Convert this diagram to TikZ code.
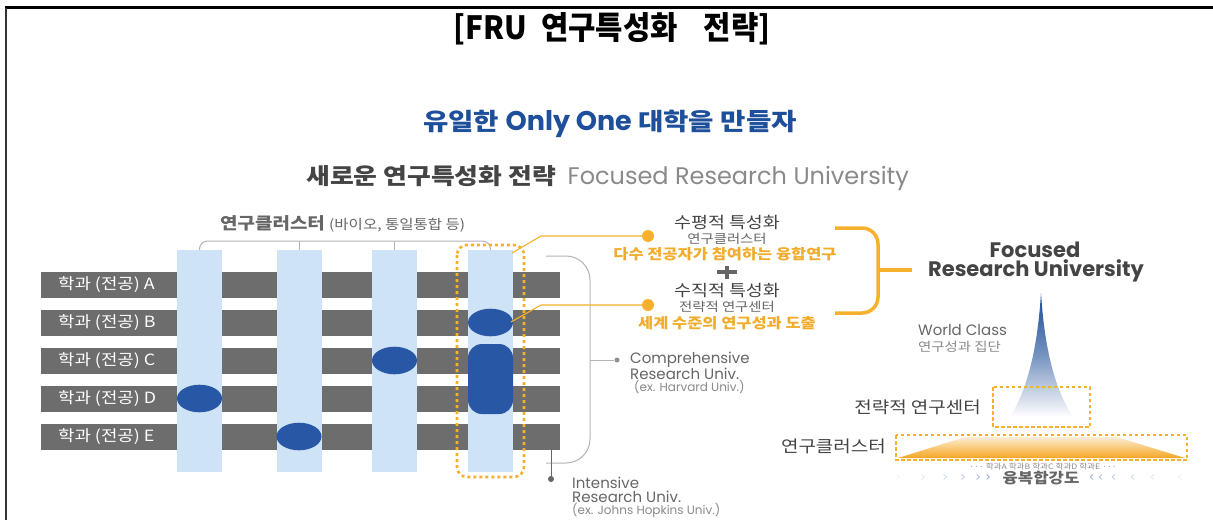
\documentclass[tikz,border=0pt]{standalone}
\usepackage{fontspec}
\setmainfont{Noto Sans CJK KR}[FakeStretch=1.15]
\newfontfamily\titlefont{Noto Sans CJK KR}[FakeStretch=0.93]
\newfontfamily\pop{Poppins}
\usetikzlibrary{calc}
\definecolor{rowgray}{HTML}{6D6D6D}
\definecolor{colblue}{HTML}{CFE3F7}
\definecolor{dotblue}{HTML}{2857A6}
\definecolor{orng}{HTML}{F5B12E}
\definecolor{orngtxt}{HTML}{F2AC2C}
\definecolor{titleblue}{HTML}{1D4F9B}
\definecolor{dgray}{HTML}{444444}
\definecolor{mgray}{HTML}{666666}
\definecolor{lgray}{HTML}{8A8A8A}
\definecolor{brgray}{HTML}{B4B4B4}
\definecolor{spikeblue}{HTML}{1A4A96}
\definecolor{trapor}{HTML}{F5A623}
\newcommand{\myfs}[1]{\fontsize{#1}{#1}\selectfont}
\tikzset{
  rowbar/.style={fill=rowgray, draw=none},
  colbar/.style={fill=colblue, draw=none},
  blob/.style={fill=dotblue, draw=none},
  rowlab/.style={text=white, anchor=west, inner sep=0pt, font=\myfs{15.5}},
  txt/.style={inner sep=0pt},
  orline/.style={draw=orng, line width=1.1pt},
  ordot/.style={fill=orng, draw=none, circle, minimum size=12pt, inner sep=0pt},
  grline/.style={draw=brgray, line width=1pt},
  arrsym/.style={inner sep=0pt, font=\pop\myfs{11}}
}
\begin{document}
\begin{tikzpicture}[x=1pt,y=-1pt]
\useasboundingbox (0,0) rectangle (1213,520);
\fill[white] (0,0) rectangle (1213,520);
% frame
\draw[black, line width=2.4pt] (5,7.5) -- (1213,7.5);
\draw[black!80, line width=2.5pt] (6,7.5) -- (6,520);
% title
\node[txt, font=\titlefont\bfseries\myfs{32}] (title) at (612,29) {[FRU\hspace{14pt}연구특성화\hspace{26pt}전략]};
\node[txt, text=titleblue] (sub) at (610,124) {\myfs{24}\bfseries 유일한 {\pop\myfs{27}Only One} 대학을 만들자};
\node[txt, anchor=west] (sub2) at (306,178) {\myfs{22.5}\textbf{\color{dgray}새로운 연구특성화 전략}\ \ {\pop\myfs{24}\color{lgray}Focused Research University}};

% rows
\foreach \n/\y in {A/284.5,B/322.5,C/360.5,D/398.5,E/436.5}{
  \fill[rowbar] (41,\y-13) rectangle (560,\y+13);
  \node[rowlab] (lab\n) at (58,\y) {학과 (전공) \n};
}
% columns
\foreach \i/\x in {1/199.5,2/299,3/394.5,4/490.5}{
  \fill[colbar] (\x-22.5,250) rectangle (\x+22.5,472);
  \coordinate (ctop\i) at (\x,250);
}
% blobs
\fill[blob] (199.5,398.5) ellipse (22.5 and 13.8);
\fill[blob] (299,436.5) ellipse (22.5 and 13.8);
\fill[blob] (394.5,360.5) ellipse (22.5 and 13.8);
\fill[blob] (490.5,322.5) ellipse (22.5 and 13.8);
\fill[blob, rounded corners=14pt] (468,344) rectangle (513,414);

% top cluster bracket
\draw[grline, rounded corners=8pt] (ctop1) -- (199.5,241) -- (490.5,241) -- (ctop4);
\draw[grline] (ctop2) -- (299,241);
\draw[grline] (ctop3) -- (394.5,241);
\node[txt, anchor=west, text=mgray] (cluster) at (220,224) {\myfs{16.5}\textbf{연구클러스터} \myfs{13.5}(바이오, 통일통합 등)};

% dotted focus box
\draw[orng, line width=2.6pt, dash pattern=on 3pt off 3pt, rounded corners=10pt] (457,245) rectangle (524,477);

% right grey bracket
\draw[grline, rounded corners=24pt] (546,256) -- (590,256) -- (590,463) -- (546,463);
\coordinate (cmpstart) at (590,360);
\node[circle, fill=brgray!80!black, inner sep=0pt, minimum size=5pt] (cmpdot) at (617,360) {};
\draw[grline] (cmpstart) -- (cmpdot);
\node[txt, anchor=west, text=mgray] (comp) at (630,360) {\pop\myfs{15}Comprehensive};
\node[txt, anchor=west, text=mgray] (comp2) at (630,374) {\pop\myfs{15}Research Univ.};
\node[txt, anchor=west, text=lgray] (comp3) at (634,387) {\pop\myfs{12}(ex. Harvard Univ.)};

% intensive
\coordinate (intstart) at (551,449);
\node[circle, fill=mgray, inner sep=0pt, minimum size=6pt] (intdot) at (551,479) {};
\draw[draw=mgray, line width=1pt] (intstart) -- (intdot);
\node[txt, anchor=west, text=mgray] (int1) at (572,483) {\pop\myfs{15}Intensive};
\node[txt, anchor=west, text=mgray] (int2) at (572,497) {\pop\myfs{15}Research Univ.};
\node[txt, anchor=west, text=lgray] (int3) at (572,510) {\pop\myfs{12}(ex. Johns Hopkins Univ.)};

% orange connectors
\node[ordot] (hdot) at (648,236) {};
\node[ordot] (vdot) at (648,305) {};
\coordinate (hstart) at (512,253);
\coordinate (vstart) at (511,322);
\draw[orline] (hstart) -- (541,236) -- (hdot);
\draw[orline] (vstart) -- (541,305) -- (vdot);

% middle text
\node[txt, text=dgray] (h1) at (727,223) {\myfs{16}수평적 특성화};
\node[txt, text=mgray] (h2) at (727,239) {\myfs{12.5}연구클러스터};
\node[txt, text=orngtxt] (h3) at (725,254) {\myfs{14.3}\bfseries 다수 전공자가 참여하는 융합연구};
\draw[draw=mgray, line width=4pt] (717,272) -- (737,272);
\draw[draw=mgray, line width=4pt] (727,265.5) -- (727,278.5);
\node[txt, text=dgray] (v1) at (727,291) {\myfs{16}수직적 특성화};
\node[txt, text=mgray] (v2) at (727,307) {\myfs{12.5}전략적 연구센터};
\node[txt, text=orngtxt] (v3) at (727,323) {\myfs{14.3}\bfseries 세계 수준의 연구성과 도출};

% brace
\draw[orng, line width=3.5pt, rounded corners=16pt] (835,228) -- (878,228) -- (878,313) -- (835,313);
\coordinate (bmid) at (878,270);
\node[txt, text=dgray] (fru1) at (1035,250) {\pop\bfseries\myfs{21}Focused};
\node[txt, text=dgray] (fru2) at (1036,271) {\pop\bfseries\myfs{21}Research University};
\draw[orng, line width=3.5pt] (bmid) -- (912,270);

% spike
\shade[top color=spikeblue, bottom color=white, middle color=spikeblue!60!white]
  (1010,417) .. controls (1030,385) and (1038,340) .. (1041,293)
  .. controls (1044,340) and (1052,385) .. (1073,417) -- cycle;
\node[txt, anchor=west, text=mgray] (wc1) at (918,330) {\pop\myfs{15}World Class};
\node[txt, anchor=west, text=lgray] (wc2) at (918,347) {\myfs{12.5}연구성과 집단};

% dashed boxes
\draw[orng, line width=1.6pt, dash pattern=on 3.5pt off 2.5pt] (993,387) rectangle (1090,427);
\node[txt, anchor=east, text=dgray] (strat) at (981,407) {\myfs{16.5}전략적 연구센터};
\shade[top color=trapor!20!white, bottom color=trapor]
  (898,458) -- (965,437) -- (1117,437) -- (1185,458) -- cycle;
\draw[orng, line width=1.6pt, dash pattern=on 3.5pt off 2.5pt] (896,435) rectangle (1187,460);
\node[txt, anchor=east, text=dgray] (clus2) at (886,446) {\myfs{16.5}연구클러스터};

\node[txt, text=lgray] (depts) at (1043,467) {\myfs{7.5}··· 학과A\ 학과B\ 학과C\ 학과D\ 학과E ···};
\node[txt, text=mgray, font=\bfseries] (yb) at (1041,478) {\myfs{14.5}융복합강도};
\foreach \x/\c in {898/8, 923/15, 945/25, 963/35, 978/45, 988/55}{
  \node[arrsym, text=dotblue!\c!white] at (\x,478) {>};
}
\foreach \x/\c in {1092/55, 1101/45, 1114/35, 1133/25, 1153/15, 1180/8}{
  \node[arrsym, text=dotblue!\c!white] at (\x,478) {<};
}
\end{tikzpicture}
\end{document}
